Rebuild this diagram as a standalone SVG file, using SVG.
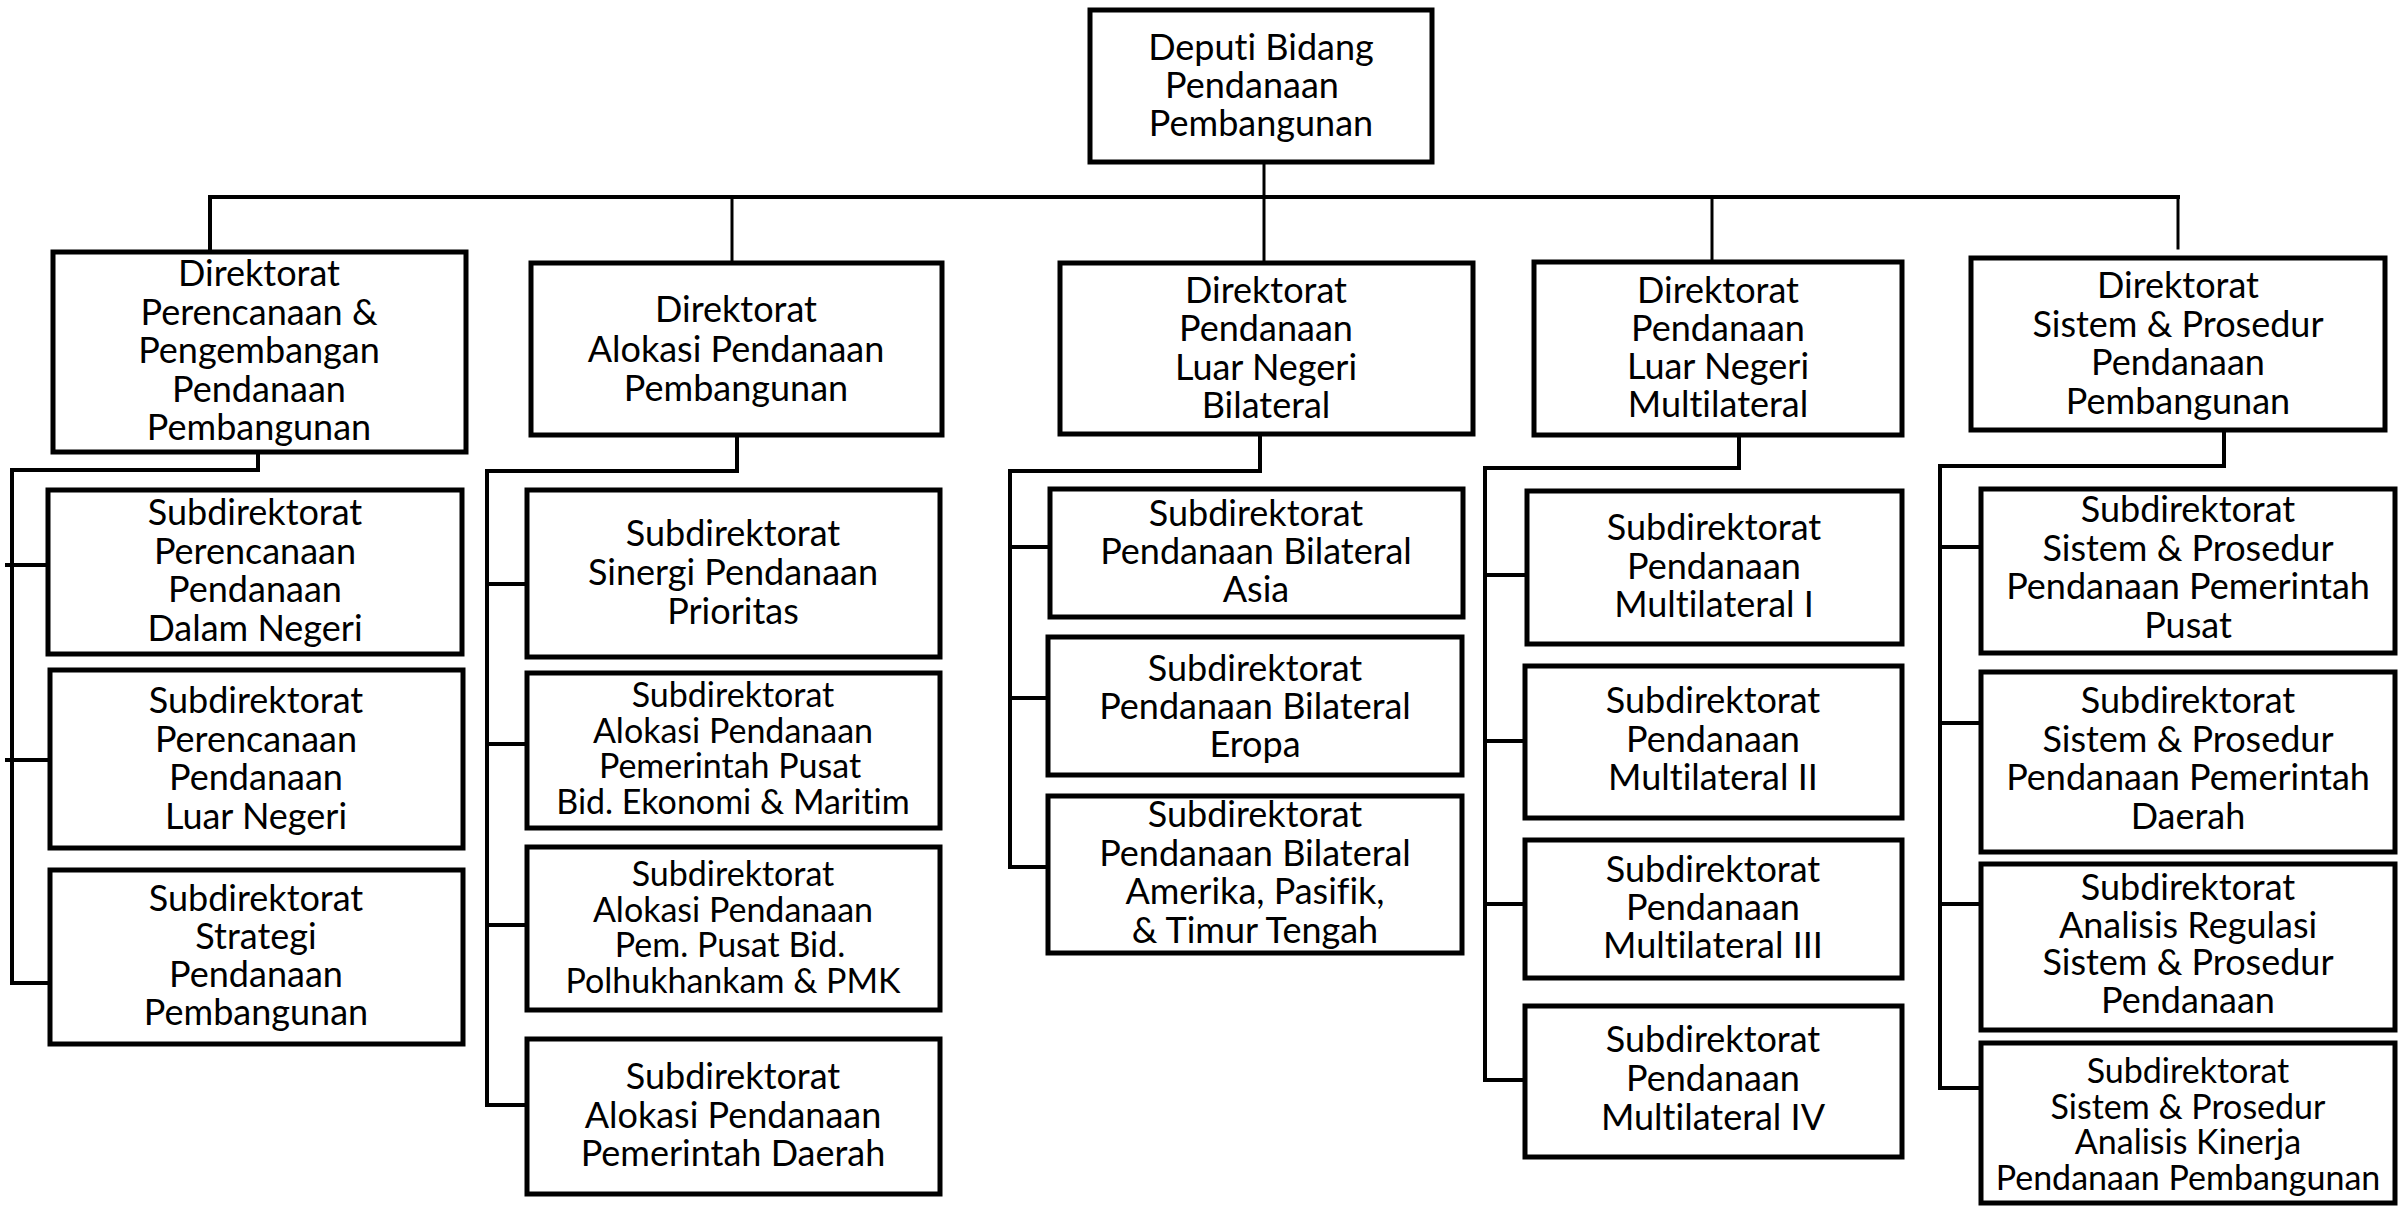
<svg xmlns="http://www.w3.org/2000/svg" width="2406" height="1208" viewBox="0 0 2406 1208">
<style>
rect.b{fill:#fff;stroke:#000;stroke-width:5}
text{font-family:Lato,"Liberation Sans",sans-serif;font-size:36px;fill:#000;text-anchor:middle;font-variant-ligatures:none;font-feature-settings:"liga" 0,"clig" 0}
text.s{font-size:34px}
.c path{fill:none;stroke:#000;stroke-width:4;stroke-linecap:square}
.c path.t{stroke-width:3}
</style>
<rect width="2406" height="1208" fill="#fff"/>
<g class="c" id="connectors">
<path class="t" d="M1264 162V263"/>
<path d="M210 197H2178"/>
<path d="M210 197V252"/>
<path class="t" d="M732 197V263"/>
<path class="t" d="M1712 197V262"/>
<path class="t" d="M2178 197V248"/>
<path d="M258 452V470H12V983H50"/>
<path d="M7 565H48M7 760H50"/>
<path d="M737 435V471H487V1105H527"/>
<path d="M487 584H527M487 744H527M487 925H527"/>
<path d="M1260 434V471H1010V867H1048"/>
<path d="M1010 547H1050M1010 698H1048"/>
<path d="M1739 435V468H1485V1080H1525"/>
<path d="M1485 575H1527M1485 741H1525M1485 904H1525"/>
<path d="M2224 430V466H1940V1088H1981"/>
<path d="M1940 547H1981M1940 723H1981M1940 904H1981"/>
</g>
<g id="deputi"><rect class="b" x="1090" y="10" width="342" height="152"/>
<text x="1261" y="60">Deputi Bidang<tspan x="1252" dy="38">Pendanaan</tspan><tspan x="1261" dy="38">Pembangunan</tspan></text></g>
<g id="dir1"><rect class="b" x="53" y="252" width="413" height="200"/>
<text x="259" y="286">Direktorat<tspan x="259" dy="38.5">Perencanaan &amp;</tspan><tspan x="259" dy="38.5">Pengembangan</tspan><tspan x="259" dy="38.5">Pendanaan</tspan><tspan x="259" dy="38.5">Pembangunan</tspan></text></g>
<g id="dir2"><rect class="b" x="531" y="263" width="411" height="172"/>
<text x="736" y="322">Direktorat<tspan x="736" dy="39.5">Alokasi Pendanaan</tspan><tspan x="736" dy="39.5">Pembangunan</tspan></text></g>
<g id="dir3"><rect class="b" x="1060" y="263" width="413" height="171"/>
<text x="1266" y="303">Direktorat<tspan x="1266" dy="38.3">Pendanaan</tspan><tspan x="1266" dy="38.3">Luar Negeri</tspan><tspan x="1266" dy="38.3">Bilateral</tspan></text></g>
<g id="dir4"><rect class="b" x="1534" y="262" width="368" height="173"/>
<text x="1718" y="303">Direktorat<tspan x="1718" dy="38">Pendanaan</tspan><tspan x="1718" dy="38">Luar Negeri</tspan><tspan x="1718" dy="38">Multilateral</tspan></text></g>
<g id="dir5"><rect class="b" x="1971" y="258" width="414" height="172"/>
<text x="2178" y="298">Direktorat<tspan x="2178" dy="38.5">Sistem &amp; Prosedur</tspan><tspan x="2178" dy="38.5">Pendanaan</tspan><tspan x="2178" dy="38.5">Pembangunan</tspan></text></g>
<g id="s1"><rect class="b" x="48" y="490" width="414" height="164"/>
<text x="255" y="525">Subdirektorat<tspan x="255" dy="38.5">Perencanaan</tspan><tspan x="255" dy="38.5">Pendanaan</tspan><tspan x="255" dy="38.5">Dalam Negeri</tspan></text></g>
<g id="s2"><rect class="b" x="50" y="670" width="413" height="178"/>
<text x="256" y="713">Subdirektorat<tspan x="256" dy="38.5">Perencanaan</tspan><tspan x="256" dy="38.5">Pendanaan</tspan><tspan x="256" dy="38.5">Luar Negeri</tspan></text></g>
<g id="s3"><rect class="b" x="50" y="870" width="413" height="174"/>
<text x="256" y="911">Subdirektorat<tspan x="256" dy="38">Strategi</tspan><tspan x="256" dy="38">Pendanaan</tspan><tspan x="256" dy="38">Pembangunan</tspan></text></g>
<g id="c1"><rect class="b" x="527" y="490" width="413" height="167"/>
<text x="733" y="546">Subdirektorat<tspan x="733" dy="39">Sinergi Pendanaan</tspan><tspan x="733" dy="39">Prioritas</tspan></text></g>
<g id="c2"><rect class="b" x="527" y="673" width="413" height="155"/>
<text class="s" x="733" y="707">Subdirektorat<tspan x="733" dy="35.7">Alokasi Pendanaan</tspan><tspan x="730" dy="35.7">Pemerintah Pusat</tspan><tspan x="733" dy="35.7">Bid. Ekonomi &amp; Maritim</tspan></text></g>
<g id="c3"><rect class="b" x="527" y="847" width="413" height="163"/>
<text class="s" x="733" y="886">Subdirektorat<tspan x="733" dy="35.7">Alokasi Pendanaan</tspan><tspan x="730" dy="35.7">Pem. Pusat Bid.</tspan><tspan x="733" dy="35.7">Polhukhankam &amp; PMK</tspan></text></g>
<g id="c4"><rect class="b" x="527" y="1039" width="413" height="155"/>
<text x="733" y="1089">Subdirektorat<tspan x="733" dy="38.5">Alokasi Pendanaan</tspan><tspan x="733" dy="38.5">Pemerintah Daerah</tspan></text></g>
<g id="b1"><rect class="b" x="1050" y="489" width="413" height="128"/>
<text x="1256" y="526">Subdirektorat<tspan x="1256" dy="38">Pendanaan Bilateral</tspan><tspan x="1256" dy="38">Asia</tspan></text></g>
<g id="b2"><rect class="b" x="1048" y="637" width="414" height="138"/>
<text x="1255" y="681">Subdirektorat<tspan x="1255" dy="38">Pendanaan Bilateral</tspan><tspan x="1255" dy="38">Eropa</tspan></text></g>
<g id="b3"><rect class="b" x="1048" y="796" width="414" height="157"/>
<text x="1255" y="827">Subdirektorat<tspan x="1255" dy="38.7">Pendanaan Bilateral</tspan><tspan x="1255" dy="38.7">Amerika, Pasifik,</tspan><tspan x="1255" dy="38.7">&amp; Timur Tengah</tspan></text></g>
<g id="m1"><rect class="b" x="1527" y="491" width="375" height="153"/>
<text x="1714" y="540">Subdirektorat<tspan x="1714" dy="38.5">Pendanaan</tspan><tspan x="1714" dy="38.5">Multilateral I</tspan></text></g>
<g id="m2"><rect class="b" x="1525" y="666" width="377" height="152"/>
<text x="1713" y="713">Subdirektorat<tspan x="1713" dy="38.5">Pendanaan</tspan><tspan x="1713" dy="38.5">Multilateral II</tspan></text></g>
<g id="m3"><rect class="b" x="1525" y="840" width="377" height="138"/>
<text x="1713" y="882">Subdirektorat<tspan x="1713" dy="38">Pendanaan</tspan><tspan x="1713" dy="38">Multilateral III</tspan></text></g>
<g id="m4"><rect class="b" x="1525" y="1006" width="377" height="151"/>
<text x="1713" y="1052">Subdirektorat<tspan x="1713" dy="39">Pendanaan</tspan><tspan x="1713" dy="39">Multilateral IV</tspan></text></g>
<g id="e1"><rect class="b" x="1981" y="489" width="414" height="164"/>
<text x="2188" y="522">Subdirektorat<tspan x="2188" dy="38.7">Sistem &amp; Prosedur</tspan><tspan x="2188" dy="38.7">Pendanaan Pemerintah</tspan><tspan x="2188" dy="38.7">Pusat</tspan></text></g>
<g id="e2"><rect class="b" x="1981" y="672" width="414" height="180"/>
<text x="2188" y="713">Subdirektorat<tspan x="2188" dy="38.7">Sistem &amp; Prosedur</tspan><tspan x="2188" dy="38.7">Pendanaan Pemerintah</tspan><tspan x="2188" dy="38.7">Daerah</tspan></text></g>
<g id="e3"><rect class="b" x="1981" y="864" width="414" height="166"/>
<text x="2188" y="900">Subdirektorat<tspan x="2188" dy="37.7">Analisis Regulasi</tspan><tspan x="2188" dy="37.7">Sistem &amp; Prosedur</tspan><tspan x="2188" dy="37.7">Pendanaan</tspan></text></g>
<g id="e4"><rect class="b" x="1981" y="1043" width="414" height="160"/>
<text class="s" x="2188" y="1083">Subdirektorat<tspan x="2188" dy="35.7">Sistem &amp; Prosedur</tspan><tspan x="2188" dy="35.7">Analisis Kinerja</tspan><tspan x="2188" dy="35.7">Pendanaan Pembangunan</tspan></text></g>
</svg>
